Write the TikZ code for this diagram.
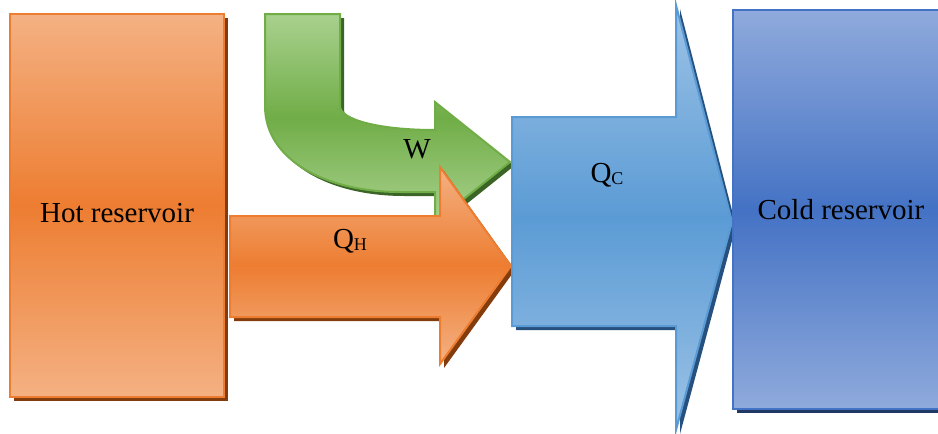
\documentclass[tikz,border=0pt]{standalone}
\usepackage{fontspec}
\setmainfont{Liberation Serif}
\definecolor{orM}{HTML}{ED7D31}
\definecolor{orL}{HTML}{F4B183}
\definecolor{orS}{HTML}{843C0C}
\definecolor{grM}{HTML}{70AD47}
\definecolor{grL}{HTML}{A9D18E}
\definecolor{grS}{HTML}{3B6427}
\definecolor{blM}{HTML}{5B9BD5}
\definecolor{blL}{HTML}{9DC3E6}
\definecolor{blS}{HTML}{26507E}
\definecolor{cdM}{HTML}{4472C4}
\definecolor{cdL}{HTML}{8FAADC}
\definecolor{cdS}{HTML}{203864}
\tikzset{
  lbl/.style={font=\rmfamily\fontsize{29}{32}\selectfont, inner sep=0pt},
  orfill/.style={top color=orL, bottom color=orL, middle color=orM, draw=orM, line width=2pt},
  grfill/.style={top color=grL, bottom color=grL, middle color=grM, draw=grM, line width=2pt},
  blfill/.style={top color=blL, bottom color=blL, middle color=blM, draw=blM, line width=2pt},
  cdfill/.style={top color=cdL, bottom color=cdL, middle color=cdM, draw=cdM, line width=2.2pt},
}
\newcommand{\subH}[1]{\raisebox{-2pt}{\fontsize{18}{18}\selectfont #1}}
\begin{document}
\begin{tikzpicture}[x=1pt,y=-1pt]
\useasboundingbox (0,0) rectangle (938,434);
\clip (0,0) rectangle (938,434);
% hot reservoir
\fill[orS] (14,18) rectangle (228,401);
\path[orfill] (10,14) rectangle (224,397);
% green bent arrow
\def\grpath{(265,14) -- (340,14) -- (340,106) .. controls (340,120) and (380,130) .. (435,130) -- (435,102) -- (510,162) -- (435,222) -- (435,192) -- (400,192) .. controls (326,192) and (265,160) .. (265,106) -- cycle}
\fill[grS, shift={(4,4)}] \grpath;
\path[grfill] \grpath;
% orange arrow
\def\orpath{(230,216) -- (440,216) -- (440,167) -- (511,266) -- (440,364) -- (440,317) -- (230,317) -- cycle}
\fill[orS, shift={(4,4)}] \orpath;
\path[orfill] \orpath;
% blue arrow
\def\blpath{(512,117) -- (676,117) -- (676,5) -- (732,222) -- (676,430) -- (676,326) -- (512,326) -- cycle}
\fill[blS, shift={(4,4)}] \blpath;
\path[blfill] \blpath;
% cold reservoir
\fill[cdS] (737,14) rectangle (950,413);
\path[cdfill] (733,10) rectangle (946,409);
% labels
\node[lbl] (hot) at (117,213) {Hot reservoir};
\node[lbl] (cold) at (841,210) {Cold reservoir};
\node[lbl] (w) at (417,149) {W};
\node[lbl] (qh) at (350,241) {Q\subH{H}};
\node[lbl] (qc) at (607,175) {Q\subH{C}};
\end{tikzpicture}
\end{document}
